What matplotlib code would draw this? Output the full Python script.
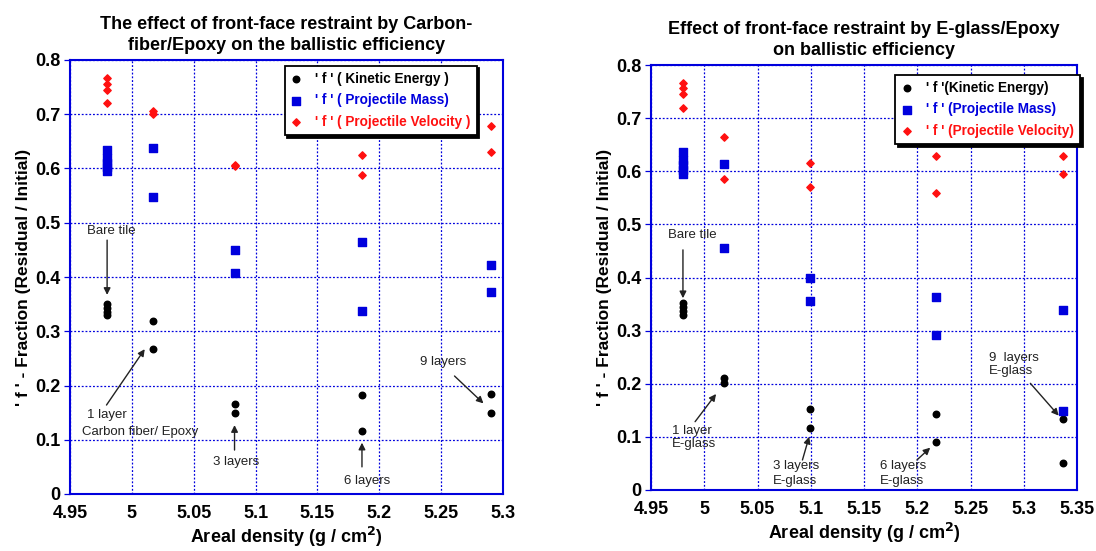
import matplotlib
matplotlib.use("Agg")
import matplotlib.pyplot as plt
from matplotlib.ticker import FormatStrFormatter, MultipleLocator

plt.rcParams['font.family'] = ['Liberation Sans', 'DejaVu Sans']

BLUE = '#0000dd'
RED = '#ff1010'

# ---- carbon fiber / epoxy (left) ----
cf_ke_x = [4.98, 4.98, 4.98, 4.98, 5.017, 5.017, 5.083, 5.083, 5.186, 5.186, 5.29, 5.29]
cf_ke_y = [0.350, 0.343, 0.336, 0.330, 0.318, 0.268, 0.165, 0.149, 0.182, 0.117, 0.184, 0.149]
cf_pm_x = [4.98, 4.98, 4.98, 4.98, 4.98, 5.017, 5.017, 5.083, 5.083, 5.186, 5.186, 5.29, 5.29]
cf_pm_y = [0.635, 0.620, 0.611, 0.603, 0.596, 0.638, 0.548, 0.450, 0.407, 0.465, 0.337, 0.423, 0.373]
cf_pv_x = [4.98, 4.98, 4.98, 4.98, 5.017, 5.017, 5.083, 5.083, 5.186, 5.186, 5.29, 5.29]
cf_pv_y = [0.767, 0.755, 0.745, 0.720, 0.706, 0.700, 0.606, 0.604, 0.625, 0.588, 0.678, 0.630]

# ---- E-glass / epoxy (right) ----
eg_ke_x = [4.98, 4.98, 4.98, 4.98, 5.019, 5.019, 5.099, 5.099, 5.218, 5.218, 5.337, 5.337]
eg_ke_y = [0.352, 0.345, 0.337, 0.330, 0.210, 0.201, 0.152, 0.116, 0.144, 0.091, 0.134, 0.051]
eg_pm_x = [4.98, 4.98, 4.98, 4.98, 4.98, 5.019, 5.019, 5.099, 5.099, 5.218, 5.218, 5.337, 5.337]
eg_pm_y = [0.637, 0.622, 0.612, 0.603, 0.595, 0.614, 0.455, 0.400, 0.356, 0.363, 0.292, 0.339, 0.148]
eg_pv_x = [4.98, 4.98, 4.98, 4.98, 5.019, 5.019, 5.099, 5.099, 5.218, 5.218, 5.337, 5.337]
eg_pv_y = [0.767, 0.756, 0.746, 0.720, 0.665, 0.585, 0.615, 0.570, 0.629, 0.559, 0.629, 0.595]

fig = plt.figure(figsize=(10.96, 5.51), dpi=100)
ax1 = fig.add_axes([70/1096, 57/551, 433/1096, 434/551])
ax2 = fig.add_axes([651/1096, 61/551, 426/1096, 425/551])


def style(ax, xmax, title):
    ax.set_xlim(4.95, xmax)
    ax.set_ylim(0, 0.8)
    ax.xaxis.set_major_locator(MultipleLocator(0.05))
    ax.yaxis.set_major_locator(MultipleLocator(0.1))
    ax.xaxis.set_major_formatter(FormatStrFormatter('%g'))
    ax.yaxis.set_major_formatter(FormatStrFormatter('%g'))
    ax.grid(True, color=BLUE, linestyle=(0, (1.5, 1.5)), linewidth=0.9)
    for sp in ax.spines.values():
        sp.set_color(BLUE)
        sp.set_linewidth(1.5)
    ax.tick_params(axis='y', length=4, color=BLUE, direction='out', width=0.9, pad=3)
    ax.tick_params(axis='x', length=0, pad=8)
    for lab in ax.get_xticklabels() + ax.get_yticklabels():
        lab.set_fontweight('bold')
        lab.set_fontsize(13)
    ax.set_xlabel('Areal density (g / cm$^{\\mathbf{2}}$)', fontsize=13,
                  fontweight='bold', labelpad=2)
    ax.set_ylabel("' f ' - Fraction (Residual / Initial)", fontsize=12.5,
                  fontweight='bold', labelpad=3)
    ax.set_title(title, fontsize=13, fontweight='bold', pad=7,
                 linespacing=1.35)


def series(ax, kx, ky, mx, my, vx, vy, labels, anchor):
    ax.scatter(kx, ky, s=22, marker='o', color='black', zorder=3, label=labels[0])
    ax.scatter(mx, my, s=34, marker='s', color=BLUE, zorder=3, label=labels[1])
    ax.scatter(vx, vy, s=14, marker='D', color=RED, zorder=3, label=labels[2])
    leg = ax.legend(loc='upper right', bbox_to_anchor=anchor, fancybox=False,
                    shadow={'color': 'black', 'alpha': 1}, edgecolor='black',
                    framealpha=1, handlelength=0.8, handletextpad=1.0,
                    borderpad=0.45, labelspacing=0.55,
                    prop={'weight': 'bold', 'size': 9.8})
    leg.get_frame().set_linewidth(1.3)
    leg.set_zorder(5)
    for t, c in zip(leg.get_texts(), ['black', BLUE, RED]):
        t.set_color(c)
    return leg


def note(ax, xy, xytext):
    ax.annotate('', xy=xy, xytext=xytext,
                arrowprops=dict(arrowstyle='-|>', color='#222222', lw=1.0,
                                mutation_scale=10, shrinkA=0, shrinkB=0))


TXT = dict(fontsize=9.5, color='#222222')

style(ax1, 5.3, 'The effect of front-face restraint by Carbon-\nfiber/Epoxy on the ballistic efficiency')
series(ax1, cf_ke_x, cf_ke_y, cf_pm_x, cf_pm_y, cf_pv_x, cf_pv_y,
       ["' f ' ( Kinetic Energy )", "' f ' ( Projectile Mass)", "' f ' ( Projectile Velocity )"],
       (0.955, 1.003))
ax1.text(4.983, 0.485, 'Bare tile', ha='center', va='center', **TXT)
note(ax1, (4.98, 0.367), (4.98, 0.468))
ax1.text(4.9795, 0.145, '1 layer', ha='center', va='center', **TXT)
ax1.text(5.007, 0.115, 'Carbon fiber/ Epoxy', ha='center', va='center', **TXT)
note(ax1, (5.0104, 0.267), (4.9795, 0.164))
ax1.text(5.0845, 0.059, '3 layers', ha='center', va='center', **TXT)
note(ax1, (5.083, 0.127), (5.083, 0.081))
ax1.text(5.190, 0.0245, '6 layers', ha='center', va='center', **TXT)
note(ax1, (5.186, 0.0946), (5.186, 0.050))
ax1.text(5.252, 0.244, '9 layers', ha='center', va='center', **TXT)
note(ax1, (5.2842, 0.167), (5.2608, 0.2175))

style(ax2, 5.35, 'Effect of front-face restraint by E-glass/Epoxy\non ballistic efficiency')
series(ax2, eg_ke_x, eg_ke_y, eg_pm_x, eg_pm_y, eg_pv_x, eg_pv_y,
       ["' f '(Kinetic Energy)", "' f ' (Projectile Mass)", "' f ' (Projectile Velocity)"],
       (1.023, 0.993))
ax2.text(4.989, 0.48, 'Bare tile', ha='center', va='center', **TXT)
note(ax2, (4.98, 0.361), (4.98, 0.452))
ax2.text(4.9695, 0.099, '1 layer\nE-glass', ha='left', va='center', linespacing=1.1, **TXT)
note(ax2, (5.0111, 0.1807), (4.9914, 0.1286))
ax2.text(5.0644, 0.031, '3 layers\nE-glass', ha='left', va='center', linespacing=1.3, **TXT)
note(ax2, (5.0985, 0.1003), (5.0922, 0.0565))
ax2.text(5.1646, 0.031, '6 layers\nE-glass', ha='left', va='center', linespacing=1.3, **TXT)
note(ax2, (5.2122, 0.0797), (5.1997, 0.0565))
ax2.text(5.267, 0.2365, '9  layers\nE-glass', ha='left', va='center', linespacing=1.1, **TXT)
note(ax2, (5.3328, 0.14), (5.3062, 0.2008))

fig.savefig('out.png', dpi=100)
